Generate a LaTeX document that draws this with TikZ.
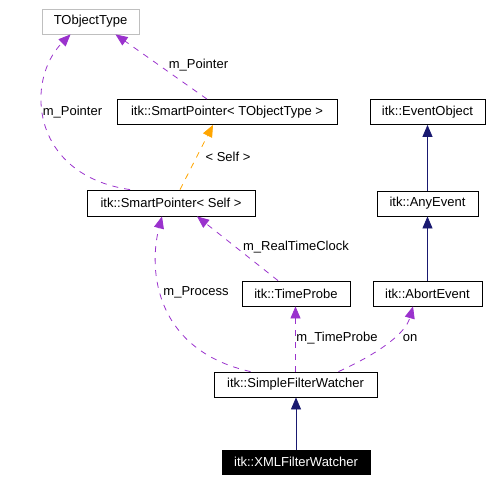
\documentclass[tikz,border=0pt]{standalone}
\usepackage{fontspec}
\setmainfont{Liberation Sans}
\usetikzlibrary{arrows.meta}
\definecolor{usepurple}{RGB}{154, 50, 205}
\definecolor{inhblue}{RGB}{25, 25, 112}
\definecolor{tplorange}{RGB}{255, 165, 0}
\definecolor{undocgray}{RGB}{191, 191, 191}

\begin{document}
\begin{tikzpicture}[x=1pt, y=-1pt,
    every node/.style={font=\fontsize{13}{15}\selectfont},
    cls/.style={draw, rectangle, line width=0.8pt, minimum height=25, inner sep=0pt},
    use/.style={usepurple, line width=0.8pt, dash pattern=on 6pt off 6pt, -{Triangle[length=12pt, width=10pt]}},
    tpl/.style={tplorange, line width=0.8pt, dash pattern=on 6pt off 6pt, -{Triangle[length=12pt, width=10pt]}},
    inh/.style={inhblue, line width=0.8pt, -{Triangle[length=12pt, width=10pt]}},
    lbl/.style={inner sep=1pt}]
                    \useasboundingbox (0,0) rectangle (492,482);
                    \node[cls, draw=undocgray, minimum width=97] (tobj) at (90.5,21.5) {TObjectType};
                    \node[cls, minimum width=220] (sptot) at (227,112) {itk::SmartPointer< TObjectType >};
                    \node[cls, minimum width=168, minimum height=26] (spself) at (171,203) {itk::SmartPointer< Self >};
                    \node[cls, minimum width=115] (evobj) at (427.5,112) {itk::EventObject};
                    \node[cls, minimum width=101] (anyev) at (427.5,203.5) {itk::AnyEvent};
                    \node[cls, minimum width=108] (probe) at (296,293.5) {itk::TimeProbe};
                    \node[cls, minimum width=109] (abort) at (427.5,293.5) {itk::AbortEvent};
                    \node[cls, minimum width=163] (sfw) at (295.5,384.5) {itk::SimpleFilterWatcher};
                    \node[cls, fill=black, text=white, minimum width=148, minimum height=24] (xml) at (296,462) {itk::XMLFilterWatcher};
                    
                    \draw[use] ([xshift=-20]sptot.north) -- ([xshift=25]tobj.south);
                    \draw[use] ([xshift=-41]spself.north) .. controls (30,175) and (25,80) .. ([xshift=-20]tobj.south);
                    \draw[tpl] ([xshift=9]spself.north) -- ([xshift=-14]sptot.south);
                    \draw[use] ([xshift=-45]sfw.north) .. controls (155,350) and (148,270) .. ([xshift=-9]spself.south);
                    \draw[use] ([xshift=-18]probe.north) -- ([xshift=26]spself.south);
                    \draw[use] (sfw.north) -- (sfw.north |- probe.south);
                    \draw[use] ([xshift=43]sfw.north) .. controls (375,355) and (405,335) .. ([xshift=-14.5]abort.south);
                    \draw[inh] (anyev) -- (evobj);
                    \draw[inh] (abort) -- (anyev);
                    \draw[inh] (xml.north) -- (xml.north |- sfw.south);
                    
                    \node[lbl] (lptr1) at (198.5,65) {m\_Pointer};
                    \node[lbl] (lptr2) at (72.5,112) {m\_Pointer};
                    \node[lbl] (lself) at (228,157) {< Self >};
                    \node[lbl] (lproc) at (196,292) {m\_Process};
                    \node[lbl] (lclock) at (296,247) {m\_RealTimeClock};
                    \node[lbl] (lprobe) at (337,338) {m\_TimeProbe};
                    \node[lbl] (lon) at (410,338) {on};
                \end{tikzpicture}
\end{document}
